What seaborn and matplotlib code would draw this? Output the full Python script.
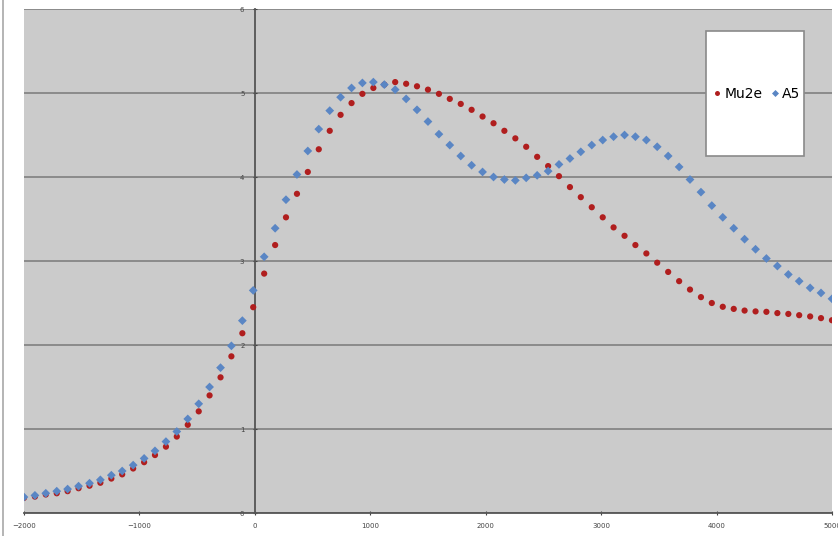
import pandas as pd
import matplotlib.pyplot as plt
import seaborn as sns
from matplotlib.patches import Rectangle
from matplotlib.lines import Line2D

# posições (eixo x) comuns às duas séries
posicoes = [-2000, -1905, -1811, -1716, -1622, -1527, -1432, -1338, -1243, -1149,
            -1054, -959, -865, -770, -676, -581, -486, -392, -297, -203,
            -108, -14, 81, 176, 270, 365, 459, 554, 649, 743,
            838, 932, 1027, 1122, 1216, 1311, 1405, 1500, 1595, 1689,
            1784, 1878, 1973, 2068, 2162, 2257, 2351, 2446, 2541, 2635,
            2730, 2824, 2919, 3014, 3108, 3203, 3297, 3392, 3486, 3581,
            3676, 3770, 3865, 3959, 4054, 4149, 4243, 4338, 4432, 4527,
            4622, 4716, 4811, 4905, 5000]

mu2e = [0.18, 0.195, 0.22, 0.235, 0.26, 0.295, 0.325, 0.36, 0.41, 0.46,
        0.53, 0.605, 0.69, 0.79, 0.91, 1.05, 1.21, 1.40, 1.615, 1.865,
        2.14, 2.45, 2.85, 3.19, 3.52, 3.80, 4.06, 4.33, 4.55, 4.74,
        4.88, 4.99, 5.06, 5.10, 5.13, 5.11, 5.08, 5.04, 4.99, 4.93,
        4.87, 4.80, 4.72, 4.64, 4.55, 4.46, 4.36, 4.24, 4.13, 4.01,
        3.88, 3.76, 3.64, 3.52, 3.40, 3.30, 3.19, 3.09, 2.98, 2.87,
        2.76, 2.66, 2.57, 2.50, 2.455, 2.43, 2.41, 2.40, 2.395, 2.38,
        2.37, 2.355, 2.34, 2.32, 2.295]

a5 = [0.19, 0.21, 0.235, 0.26, 0.285, 0.32, 0.355, 0.395, 0.45, 0.50,
      0.57, 0.65, 0.74, 0.85, 0.97, 1.12, 1.30, 1.50, 1.73, 1.99,
      2.29, 2.65, 3.05, 3.39, 3.73, 4.03, 4.31, 4.57, 4.79, 4.95,
      5.06, 5.12, 5.13, 5.10, 5.04, 4.93, 4.80, 4.66, 4.51, 4.38,
      4.25, 4.14, 4.06, 4.00, 3.97, 3.96, 3.99, 4.02, 4.07, 4.15,
      4.22, 4.30, 4.38, 4.44, 4.48, 4.50, 4.48, 4.44, 4.36, 4.25,
      4.12, 3.97, 3.82, 3.66, 3.52, 3.39, 3.26, 3.14, 3.03, 2.94,
      2.84, 2.76, 2.68, 2.62, 2.55]

series = ['Mu2e', 'A5']
cores = {'Mu2e': '#b01e1e', 'A5': '#5a86c4'}
marcadores = {'Mu2e': 'o', 'A5': 'D'}

xticks = [-2000, -1000, 0, 1000, 2000, 3000, 4000, 5000]
yticks = [0, 1, 2, 3, 4, 5, 6]

dados = pd.DataFrame({
    'x': posicoes + posicoes,
    'y': mu2e + a5,
    'serie': ['Mu2e'] * len(mu2e) + ['A5'] * len(a5),
})

fig = plt.figure(figsize=(8.38, 5.36), dpi=100)
ax = fig.add_axes([0.0286, 0.0429, 0.9642, 0.9403])
ax.set_facecolor('#cbcbcb')

sns.scatterplot(data=dados, x='x', y='y', hue='serie', style='serie',
                hue_order=series, style_order=series, palette=cores,
                markers=marcadores, s=20, linewidth=0, ax=ax, zorder=3)

ax.set_xlim(-2000, 5000)
ax.set_ylim(0, 6)
ax.set_xticks(xticks)
ax.set_yticks(yticks)
ax.set_xlabel('')
ax.set_ylabel('')
ax.grid(axis='y', color='#868686', linewidth=1.3, zorder=1)
ax.set_axisbelow(True)

# eixos cruzando no zero, como no Excel
ax.spines['left'].set_position(('data', 0))
ax.spines['left'].set_color('#555555')
ax.spines['left'].set_linewidth(1.3)
ax.spines['bottom'].set_color('#555555')
ax.spines['bottom'].set_linewidth(1.3)
ax.spines['top'].set_visible(False)
ax.spines['right'].set_visible(False)
ax.tick_params(labelsize=5, colors='#444444', length=3, width=0.8, direction='inout', pad=6)

# caixa da legenda
ax.add_patch(Rectangle((0.844, 0.708), 0.121, 0.248, transform=ax.transAxes,
                       facecolor='white', edgecolor='#8a8a8a', linewidth=1.2, zorder=4))
handles, labels = ax.get_legend_handles_labels()
ax.legend(handles, labels, ncol=2, frameon=False, loc='center',
          bbox_to_anchor=(0.905, 0.832), fontsize=10, handletextpad=0.0,
          columnspacing=0.4, handlelength=1.0, markerscale=0.8)

fig.add_artist(Line2D([0.003, 0.003], [0, 1], transform=fig.transFigure,
                      color='#a8a8a8', linewidth=1.2))

plt.savefig('out.png', dpi=100)
